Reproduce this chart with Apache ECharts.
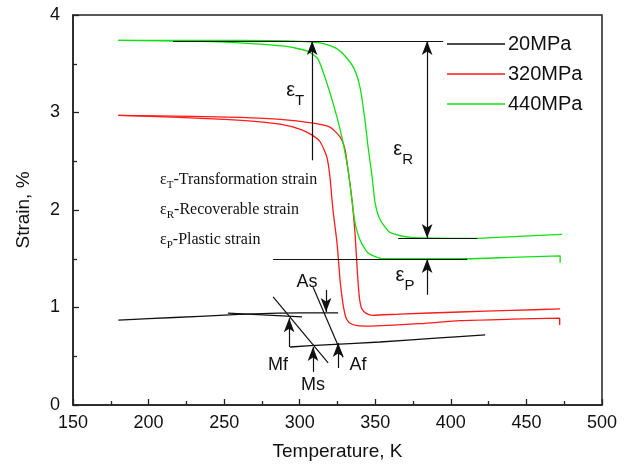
<!DOCTYPE html>
<html>
<head>
<meta charset="utf-8">
<script src="https://cdn.jsdelivr.net/npm/echarts@6/dist/echarts.min.js"></script>
<style>
  html, body { margin: 0; padding: 0; background: #fff; }
  #chart { width: 634px; height: 466px; }
</style>
</head>
<body>
<div id="chart"></div>
<script>
// Axis ranges and ticks
const xRange = [150, 500];
const xStep = 50;
const yRange = [0, 4];
const yStep = 1;

const seriesNames = ['20MPa', '320MPa', '440MPa'];
const seriesColors = ['#111111', '#ff1a1a', '#11e011'];

// 20 MPa: martensite branch and austenite branch (temperature K, strain %)
const strain20Low = [[180, 0.87], [200, 0.885], [234, 0.91], [260, 0.93], [280, 0.94], [300, 0.945], [325.4, 0.944]];
const strain20High = [[293.6, 0.595], [320, 0.62], [353, 0.646], [390, 0.685], [422.7, 0.72]];

// 320 MPa: two branches of the cycle
const strain320A = [[180, 2.97], [220, 2.95], [250, 2.93], [270, 2.91], [287, 2.88], [300, 2.83], [308, 2.77],
  [313.5, 2.70], [318, 2.54], [320, 2.34], [322, 2.0], [324.7, 1.66], [326.7, 1.28], [328.5, 1.05],
  [330.5, 0.90], [333, 0.84], [338, 0.815], [346.6, 0.81], [380, 0.835], [406, 0.865], [440, 0.88],
  [472, 0.89], [472, 0.82]];
const strain320B = [[180, 2.97], [230, 2.96], [260, 2.95], [287, 2.93], [308.8, 2.89], [320, 2.85],
  [326.7, 2.75], [330, 2.62], [332, 2.41], [334.6, 2.10], [336.6, 1.76], [338.2, 1.35], [339.5, 1.10],
  [341, 0.99], [344, 0.94], [348.5, 0.92], [366, 0.933], [406, 0.954], [440, 0.97], [472.3, 0.985]];

// 440 MPa: two branches of the cycle
const strain440A = [[180, 3.74], [234, 3.73], [260, 3.715], [290, 3.68], [305, 3.63], [312, 3.55],
  [318, 3.30], [324.7, 2.95], [328.7, 2.69], [332, 2.41], [334.6, 2.10], [336.6, 1.87], [340, 1.69],
  [345.2, 1.56], [355.2, 1.50], [373, 1.50], [410.8, 1.50], [440, 1.515], [472.3, 1.53], [472.3, 1.46]];
const strain440B = [[180, 3.74], [260, 3.74], [300, 3.73], [315, 3.71], [324, 3.66], [330, 3.58],
  [336, 3.45], [340, 3.25], [343.2, 2.92], [345.2, 2.65], [347.9, 2.34], [349.9, 2.07], [353.2, 1.90],
  [359.8, 1.77], [373, 1.72], [417.4, 1.71], [445, 1.73], [473.6, 1.75]];

// Reference lines: plateau levels and transformation tangents
const guideLines = [
  [[216.2, 3.733], [394.9, 3.733]],
  [[282.4, 1.497], [410.8, 1.497]],
  [[365.1, 1.713], [417.4, 1.713]],
  [[252.5, 0.943], [301.5, 0.903]],
  [[282.4, 1.108], [318.8, 0.431]],
  [[308.8, 1.21], [328.7, 0.49]]
];
// Arrows: [from, to, double-headed]
const arrows = [
  [[308.2, 2.51], [308.2, 3.733], false],
  [[384.3, 1.713], [384.3, 3.733], true],
  [[384.3, 1.13], [384.3, 1.497], false],
  [[293.0, 0.595], [293.0, 0.89], false],
  [[308.8, 0.34], [308.8, 0.595], false],
  [[325.4, 0.38], [325.4, 0.636], false],
  [[317.4, 1.18], [317.4, 0.954], false]
];
// Strain symbols next to the arrows: [x, y, symbol, subscript]
const strainMarks = [[297, 3.23, 'ε', 'T'], [368.4, 2.62, 'ε', 'R'], [369.7, 1.33, 'ε', 'P']];
// Transformation temperature labels
const tempMarks = [[304.9, 1.26, 'As'], [285.7, 0.41, 'Mf'], [308.8, 0.205, 'Ms'], [338.6, 0.41, 'Af']];
// Key of the strain symbols
const keyLines = [['T', 'Transformation strain'], ['R', 'Recoverable strain'], ['P', 'Plastic strain']];

const sans = "'Liberation Sans', Arial, sans-serif";
const serif = "'Liberation Serif', 'Times New Roman', serif";

const chart = echarts.init(document.getElementById('chart'), null, { renderer: 'canvas' });

function curve(name, data, color) {
  return {
    name: name, type: 'line', data: data, showSymbol: false, symbol: 'none',
    smooth: 0.2, lineStyle: { color: color, width: 1.3 }, itemStyle: { color: color },
    silent: true, animation: false, z: 3
  };
}

const markData = [];
guideLines.forEach(function (g) {
  markData.push([{ coord: g[0], symbol: 'none' }, { coord: g[1], symbol: 'none' }]);
});
arrows.forEach(function (a) {
  markData.push([{ coord: a[0], symbol: a[2] ? 'arrow' : 'none' }, { coord: a[1], symbol: 'arrow' }]);
});

const option = {
  animation: false,
  backgroundColor: '#fff',
  grid: { left: 73, right: 32, top: 15, bottom: 61, show: true, borderColor: '#222', borderWidth: 1.5 },
  xAxis: {
    type: 'value', min: xRange[0], max: xRange[1], interval: xStep,
    name: 'Temperature, K', nameLocation: 'middle', nameGap: 37,
    nameTextStyle: { fontFamily: sans, fontSize: 19, color: '#111' },
    axisLine: { show: true, lineStyle: { color: '#222', width: 1.5 } },
    axisTick: { show: true, inside: true, length: 6, lineStyle: { color: '#222', width: 1.3 } },
    minorTick: { show: true, splitNumber: 2, length: 4, lineStyle: { color: '#222', width: 1.3 } },
    axisLabel: { fontFamily: sans, fontSize: 18, color: '#111', margin: 9 },
    splitLine: { show: false }
  },
  yAxis: {
    type: 'value', min: yRange[0], max: yRange[1], interval: yStep,
    name: 'Strain, %', nameLocation: 'middle', nameGap: 40, nameRotate: 90,
    nameTextStyle: { fontFamily: sans, fontSize: 19, color: '#111' },
    axisLine: { show: true, lineStyle: { color: '#222', width: 1.5 } },
    axisTick: { show: true, inside: true, length: 6, lineStyle: { color: '#222', width: 1.3 } },
    minorTick: { show: true, splitNumber: 2, length: 4, lineStyle: { color: '#222', width: 1.3 } },
    axisLabel: { fontFamily: sans, fontSize: 18, color: '#111', margin: 13 },
    splitLine: { show: false }
  },
  legend: {
    data: seriesNames, orient: 'vertical', left: 447, top: 34, padding: 0,
    icon: 'rect', itemWidth: 58, itemHeight: 1.5, itemGap: 10,
    textStyle: { fontFamily: sans, fontSize: 20, color: '#111', lineHeight: 20, padding: [0, 0, 0, -2] },
    selectedMode: false
  },
  series: [
    curve(seriesNames[0], strain20Low, seriesColors[0]),
    curve(seriesNames[0], strain20High, seriesColors[0]),
    curve(seriesNames[1], strain320A, seriesColors[1]),
    curve(seriesNames[1], strain320B, seriesColors[1]),
    curve(seriesNames[2], strain440A, seriesColors[2]),
    curve(seriesNames[2], strain440B, seriesColors[2]),
    {
      name: 'guides', type: 'line', data: [], silent: true, animation: false, z: 4,
      markLine: {
        silent: true, animation: false, symbolSize: [8, 14],
        label: { show: false },
        lineStyle: { color: '#111', width: 1.2, type: 'solid' },
        emphasis: { disabled: true },
        data: markData
      }
    }
  ]
};
chart.setOption(option);

// Annotation texts positioned through the axes
const graphics = [];
strainMarks.forEach(function (m) {
  const p = chart.convertToPixel({ gridIndex: 0 }, [m[0], m[1]]);
  graphics.push({
    type: 'text', x: p[0], y: p[1], silent: true,
    style: {
      text: '{e|' + m[2] + '}{s|' + m[3] + '}',
      align: 'center', verticalAlign: 'middle',
      rich: {
        e: { fontFamily: sans, fontSize: 20, fill: '#111', verticalAlign: 'bottom' },
        s: { fontFamily: sans, fontSize: 15, fill: '#111', verticalAlign: 'bottom', padding: [0, 0, -8, 0] }
      }
    }
  });
});
tempMarks.forEach(function (m) {
  const p = chart.convertToPixel({ gridIndex: 0 }, [m[0], m[1]]);
  graphics.push({
    type: 'text', x: p[0], y: p[1], silent: true,
    style: { text: m[2], fontFamily: sans, fontSize: 18, fill: '#111', align: 'center', verticalAlign: 'middle' }
  });
});
keyLines.forEach(function (k, i) {
  graphics.push({
    type: 'text', x: 160, y: 180 + i * 30, silent: true,
    style: {
      text: '{e|ε}{s|' + k[0] + '}{e|-' + k[1] + '}',
      align: 'left', verticalAlign: 'middle',
      rich: {
        e: { fontFamily: serif, fontSize: 16, fill: '#111', verticalAlign: 'bottom' },
        s: { fontFamily: serif, fontSize: 11, fill: '#111', verticalAlign: 'bottom', padding: [0, 0, -3, 0] }
      }
    }
  });
});
chart.setOption({ graphic: graphics });
</script>
</body>
</html>
